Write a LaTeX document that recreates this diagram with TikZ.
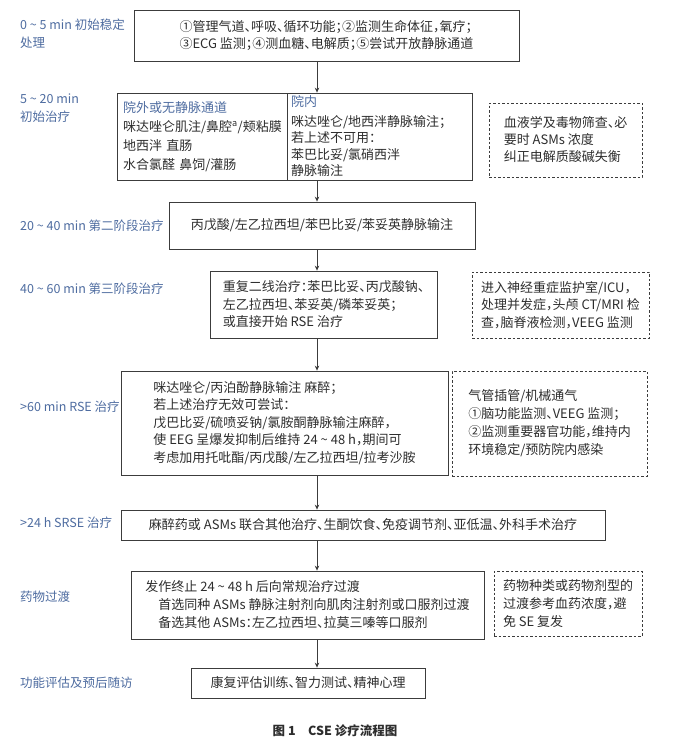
\documentclass[tikz,border=0pt]{standalone}
\usepackage{fontspec}
\setmainfont{Noto Sans CJK SC}[RawFeature=+halt]
\usetikzlibrary{arrows.meta}
\definecolor{labelblue}{RGB}{78,108,160}
\definecolor{inkgray}{RGB}{45,45,45}
\definecolor{boxgray}{RGB}{60,60,60}
\tikzset{
  stage/.style={text=labelblue, align=left, anchor=west, inner sep=0pt, font=\fontsize{12.5}{18}\selectfont},
  box/.style={shape=rectangle, draw=boxgray, line width=0.8pt, text=inkgray, align=left, inner sep=0pt, font=\fontsize{13}{17.5}\selectfont},
  notebox/.style={box, dash pattern=on 2.5pt off 2pt},
  arr/.style={-{Stealth[length=5pt,width=4.5pt]}, draw=boxgray, line width=0.8pt},
}
\begin{document}
\begin{tikzpicture}[x=1pt, y=-1pt]
\useasboundingbox (0,0) rectangle (692,745);
\coordinate (spine) at (317,0);
\node[stage] (s1) at (20,34) {0 \textasciitilde{} 5 min 初始稳定\\处理};
\node[stage] (s2) at (20,108) {5 \textasciitilde{} 20 min\\初始治疗};
\node[stage] (s3) at (20,226) {20 \textasciitilde{} 40 min 第二阶段治疗};
\node[stage] (s4) at (20,289) {40 \textasciitilde{} 60 min 第三阶段治疗};
\node[stage] (s5) at (20,407) {>60 min RSE 治疗};
\node[stage] (s6) at (20,523) {>24 h SRSE 治疗};
\node[stage] (s7) at (20,597) {药物过渡};
\node[stage] (s8) at (20,683) {功能评估及预后随访};
\node[box, minimum width=385, minimum height=51] (init) at (326.5,35.5) {①管理气道、呼吸、循环功能；②监测生命体征，氧疗；\\③ECG 监测；④测血糖、电解质；⑤尝试开放静脉通道};
\node[box, text width=158, inner xsep=6, minimum height=87, font=\fontsize{13}{19}\selectfont] (out2) at (202,136.5) {\textcolor{labelblue}{院外或无静脉通道}\\咪达唑仑肌注/鼻腔\textsuperscript{a}/颊粘膜\\地西泮 直肠\\水合氯醛 鼻饲/灌肠};
\node[box, text width=177, inner xsep=4, minimum height=87, font=\fontsize{13}{16.5}\selectfont] (in2) at (379.5,136.5) {\textcolor{labelblue}{院内}\\[3pt]咪达唑仑/地西泮静脉输注；\\若上述不可用：\\苯巴比妥/氯硝西泮\\静脉输注};
\node[notebox, minimum width=153, minimum height=74, font=\fontsize{13}{17}\selectfont] (lab) at (565.5,140) {血液学及毒物筛查、必\\要时 ASMs 浓度\\纠正电解质酸碱失衡};
\node[box, minimum width=306, minimum height=47] (second) at (322,225.5) {丙戊酸/左乙拉西坦/苯巴比妥/苯妥英静脉输注};
\node[box, minimum width=227, minimum height=67] (third) at (323.5,304.5) {重复二线治疗：苯巴比妥、丙戊酸钠、\\左乙拉西坦、苯妥英/磷苯妥英；\\或直接开始 RSE 治疗};
\node[notebox, minimum width=177, minimum height=66] (icu) at (560.5,305) {进入神经重症监护室/ICU，\\处理并发症，头颅 CT/MRI 检\\查，脑脊液检测，VEEG 监测};
\node[box, minimum width=327, minimum height=104] (rse) at (284.5,423) {咪达唑仑/丙泊酚静脉输注 麻醉；\\若上述治疗无效可尝试：\\戊巴比妥/硫喷妥钠/氯胺酮静脉输注麻醉，\\使 EEG 呈爆发抑制后维持 24 \textasciitilde{} 48 h，期间可\\考虑加用托吡酯/丙戊酸/左乙拉西坦/拉考沙胺};
\node[notebox, minimum width=195, minimum height=105, font=\fontsize{13}{18}\selectfont] (vent) at (549.5,423.5) {气管插管/机械通气\\①脑功能监测、VEEG 监测；\\②监测重要器官功能，维持内\\环境稳定/预防院内感染};
\node[box, minimum width=484, minimum height=30] (srse) at (363,525) {麻醉药或 ASMs 联合其他治疗、生酮饮食、免疫调节剂、亚低温、外科手术治疗};
\node[box, minimum width=353, minimum height=68, font=\fontsize{13}{18}\selectfont] (trans) at (307.5,605) {发作终止 24 \textasciitilde{} 48 h 后向常规治疗过渡\\\hspace*{1em}首选同种 ASMs 静脉注射剂向肌肉注射剂或口服剂过渡\\\hspace*{1em}备选其他 ASMs：左乙拉西坦、拉莫三嗪等口服剂};
\node[notebox, minimum width=148, minimum height=65, font=\fontsize{13}{18}\selectfont] (dose) at (568,603.5) {药物种类或药物剂型的\\过渡参考血药浓度，避\\免 SE 复发};
\node[box, minimum width=234, minimum height=30] (rehab) at (308,683) {康复评估训练、智力测试、精神心理};
\node[inner sep=0pt, text=inkgray, font=\fontsize{12.5}{15}\selectfont\bfseries] (cap) at (335,731) {图 1\quad CSE 诊疗流程图};
\path (init.south -| spine) edge[arr] (in2.north -| spine);
\path (in2.south -| spine) edge[arr] (second.north -| spine);
\path (second.south -| spine) edge[arr] (third.north -| spine);
\path (third.south -| spine) edge[arr] (rse.north -| spine);
\path (rse.south -| spine) edge[arr] (srse.north -| spine);
\path (srse.south -| spine) edge[arr] (trans.north -| spine);
\path (trans.south -| spine) edge[arr] (rehab.north -| spine);
\end{tikzpicture}
\end{document}
